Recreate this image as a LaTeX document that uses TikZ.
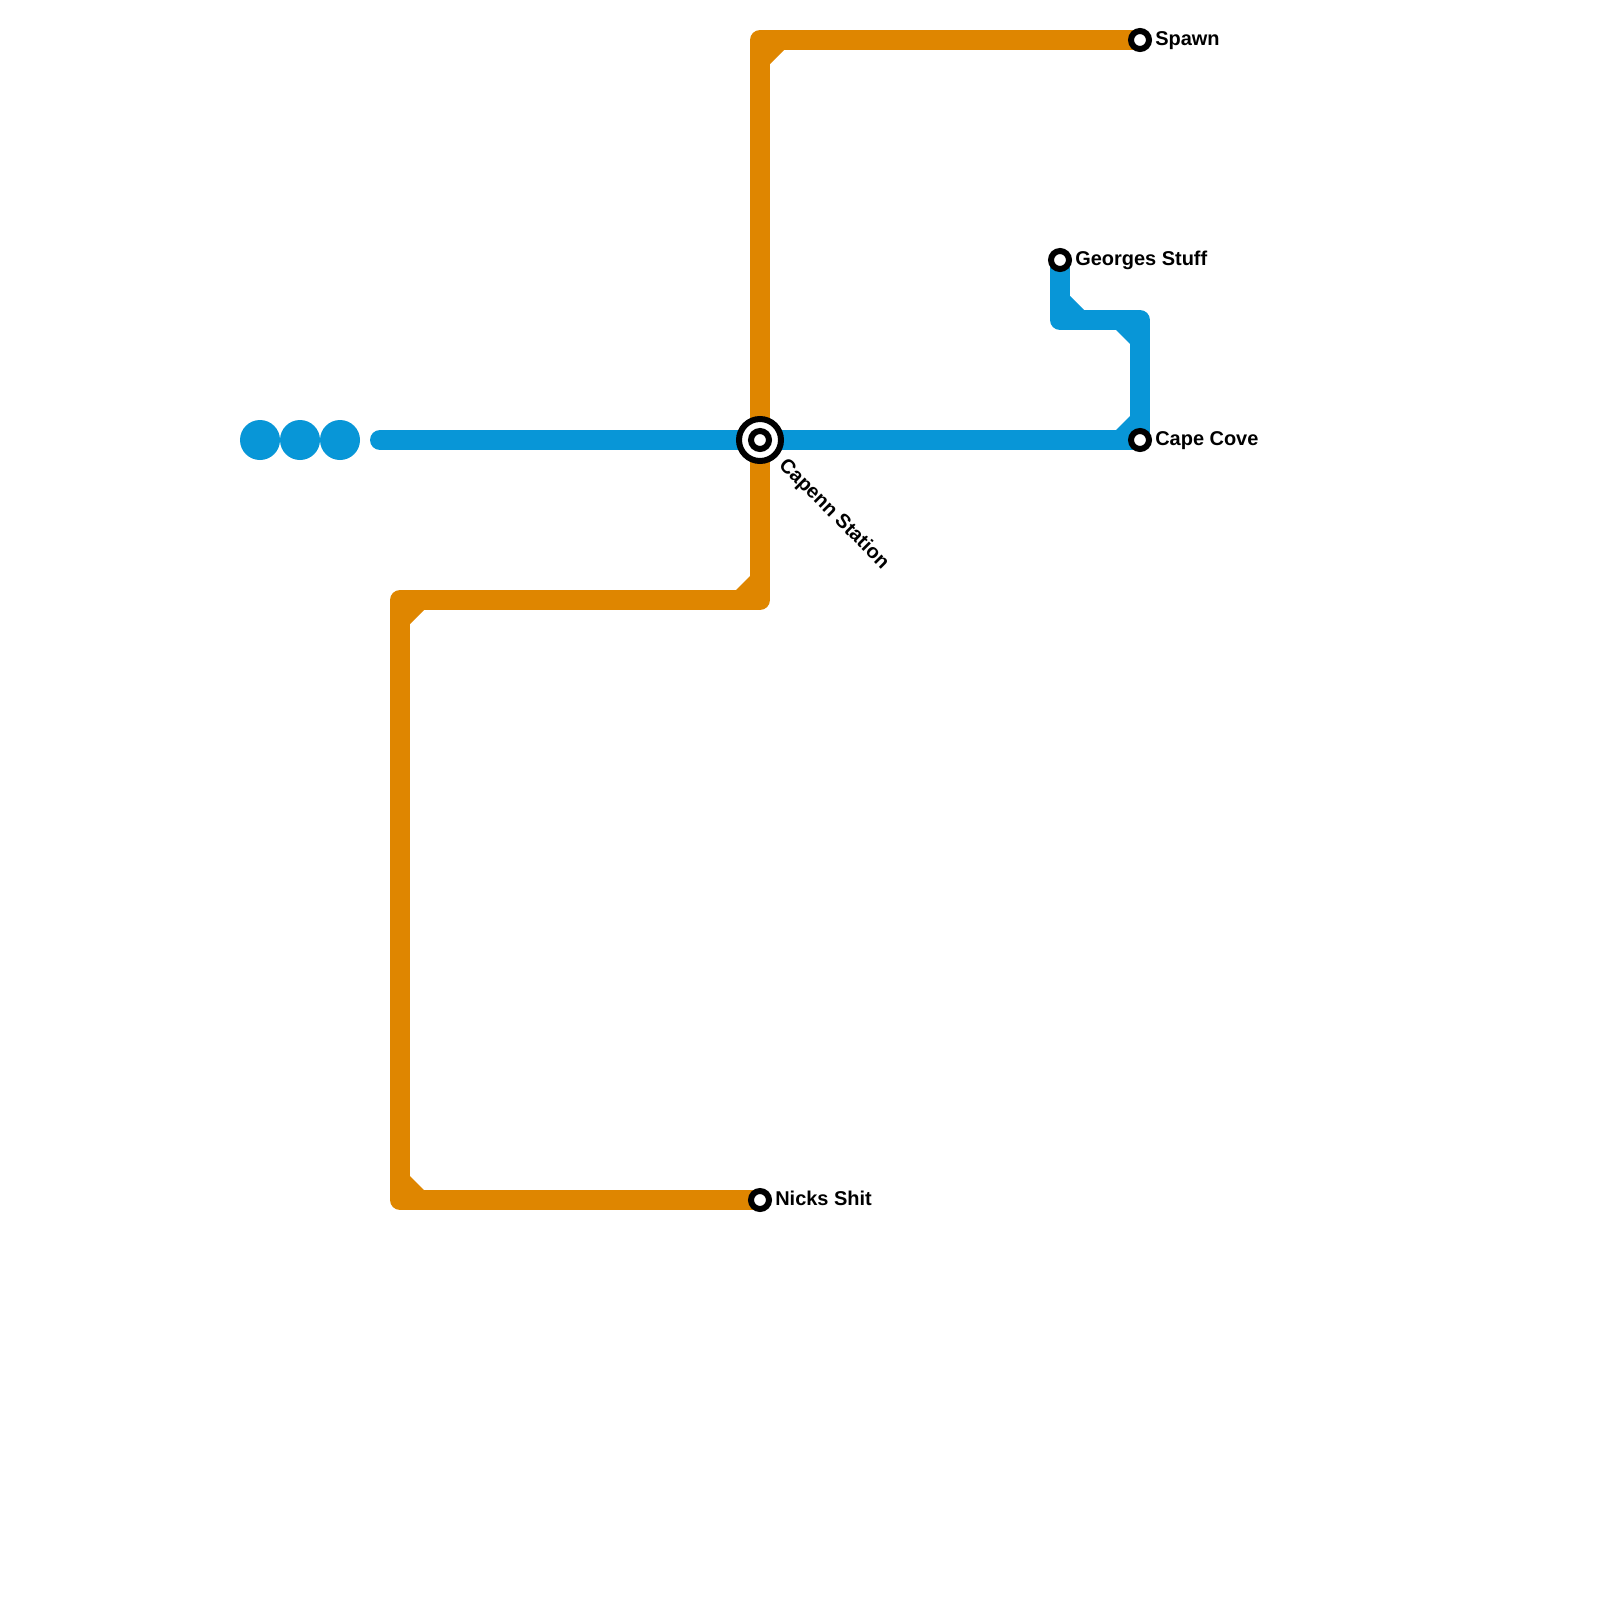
\documentclass[tikz,border=0pt]{standalone}
\usepackage{fontspec}
\setmainfont{Liberation Sans}
\definecolor{mtblue}{HTML}{0896D7}
\definecolor{mtorange}{HTML}{DF8600}
\usetikzlibrary{positioning,calc,backgrounds}

\begin{document}
\begin{tikzpicture}[
  x=1cm,y=-1cm,
  station/.style={circle,draw=black,fill=white,line width=.15cm,minimum size=.45cm,inner sep=0pt},
  hubring/.style={circle,draw=black,fill=white,line width=.15cm,minimum size=1.05cm,inner sep=0pt},
  dot/.style={circle,fill=mtblue,minimum size=1cm,inner sep=0pt},
  route/.style={line width=.5cm,line join=round,line cap=round},
  label/.style={font=\fontsize{14.2}{17}\bfseries\selectfont,inner sep=0pt,text height=.385cm,text depth=.105cm}
]
  \useasboundingbox (0,0) rectangle (40,40);

  % Stations
  \node[hubring] (hub) at (19,11) {};
  \node[station] (capenn) at (19,11) {};
  \node[station] (spawn) at (28.5,1) {};
  \node[station] (georges) at (26.5,6.5) {};
  \node[station] (cape) at (28.5,11) {};
  \node[station] (nicks) at (19,30) {};

  \node[label,right=.075 of spawn] (spawnlabel) {Spawn};
  \node[label,right=.075 of georges] (georgeslabel) {Georges Stuff};
  \node[label,right=.075 of cape] (capelabel) {Cape Cove};
  \node[label,right=.075 of nicks] (nickslabel) {Nicks Shit};
  \node[label,rotate=-45,anchor=west] (capennlabel) at (19.55,11.55) {Capenn Station};

  % Unbuilt stretch
  \foreach \name/\x in {dota/6.5, dotb/7.5, dotc/8.5} {
    \node[dot] (\name) at (\x,11) {};
  }

  % Bends
  \coordinate (westend) at (9.5,11);
  \coordinate (blueright) at (28.5,8);
  \coordinate (blueleft) at (26.5,8);
  \coordinate (topturn) at (19,1);
  \coordinate (midturn) at (19,15);
  \coordinate (leftturn) at (10,15);
  \coordinate (bottomturn) at (10,30);

  \begin{scope}[on background layer]
    \draw[route,mtorange] (spawn.center) -- (topturn) -- (midturn) -- (leftturn)
      -- (bottomturn) -- (nicks.center);
    \draw[route,mtblue] (westend) -- (hub.center) -- (cape.center) -- (blueright)
      -- (blueleft) -- (georges.center);
    \foreach \corner/\sx/\sy/\col in {topturn/1/1/mtorange, midturn/-1/-1/mtorange,
      leftturn/1/1/mtorange, bottomturn/1/-1/mtorange, blueleft/1/-1/mtblue,
      blueright/-1/1/mtblue, cape/-1/-1/mtblue} {
      \fill[\col] ($(\corner.center)+(\sx*.25,\sy*.25)$) -- +(\sx*.35,0) -- +(0,\sy*.35) -- cycle;
    }
  \end{scope}
\end{tikzpicture}
\end{document}
